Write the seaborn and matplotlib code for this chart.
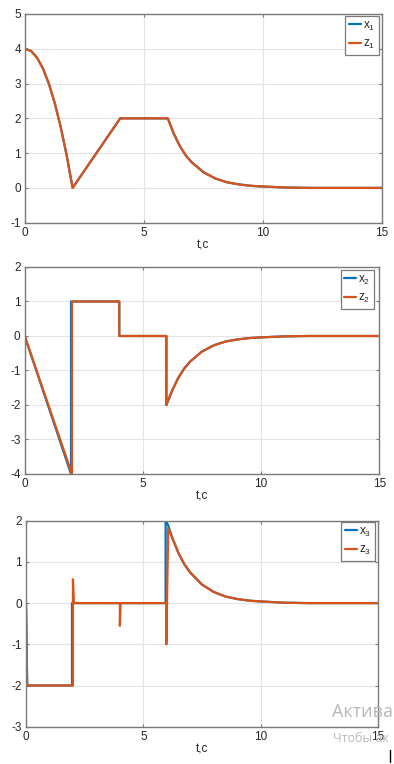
import numpy as np
import pandas as pd
import matplotlib
matplotlib.use("Agg")
import matplotlib.pyplot as plt
from matplotlib.lines import Line2D
import seaborn as sns

# ---------------- data ----------------
# panel 1: x1 and z1 coincide
t1 = [0, 0.25, 0.5, 0.75, 1.0, 1.25, 1.5, 1.75, 2.0, 4.0, 6.0, 6.25, 6.5, 6.75,
      7.0, 7.5, 8.0, 8.5, 9.0, 9.5, 10.0, 11.0, 12.0, 13.0, 14.0, 15.0]
x1 = [4.0, 3.94, 3.75, 3.44, 3.0, 2.44, 1.75, 0.94, 0.0, 2.0, 2.0, 1.56, 1.21, 0.94,
      0.74, 0.45, 0.27, 0.16, 0.10, 0.06, 0.04, 0.01, 0.0, 0.0, 0.0, 0.0]
z1 = list(x1)

# panel 2
t2x = [0, 1.96, 1.96, 4.0, 4.0, 6.0, 6.0, 6.25, 6.5, 6.75, 7.0, 7.5, 8.0, 8.5,
       9.0, 9.5, 10.0, 11.0, 12.0, 13.0, 14.0, 15.0]
x2 = [0.0, -4.0, 1.0, 1.0, 0.0, 0.0, -2.0, -1.56, -1.21, -0.94, -0.74, -0.45, -0.27,
      -0.16, -0.10, -0.06, -0.04, -0.01, 0.0, 0.0, 0.0, 0.0]
t2z = [0, 2.0, 2.0, 4.0, 4.0, 5.98, 5.98, 6.25, 6.5, 6.75, 7.0, 7.5, 8.0, 8.5,
       9.0, 9.5, 10.0, 11.0, 12.0, 13.0, 14.0, 15.0]
z2 = list(x2)

# panel 3
t3x = [0, 0.05, 1.96, 1.96, 5.95, 5.95, 6.05, 6.25, 6.5, 6.75, 7.0, 7.5, 8.0, 8.5,
       9.0, 9.5, 10.0, 11.0, 12.0, 13.0, 14.0, 15.0]
x3 = [0.0, -2.0, -2.0, 0.0, 0.0, 2.0, 1.9, 1.56, 1.21, 0.94, 0.74, 0.45, 0.27, 0.16,
      0.10, 0.06, 0.04, 0.01, 0.0, 0.0, 0.0, 0.0]
t3z = [0, 0.05, 2.0, 2.0, 2.04, 4.0, 4.0, 4.03, 5.98, 5.98, 6.06, 6.25, 6.5, 6.75,
       7.0, 7.5, 8.0, 8.5, 9.0, 9.5, 10.0, 11.0, 12.0, 13.0, 14.0, 15.0]
z3 = [0.0, -2.0, -2.0, 0.58, 0.0, 0.0, -0.55, 0.0, 0.0, -1.0, 1.82, 1.56, 1.21, 0.94,
      0.74, 0.45, 0.27, 0.16, 0.10, 0.06, 0.04, 0.01, 0.0, 0.0, 0.0, 0.0]

x_ticks = [0, 5, 10, 15]
y_ticks = [[-1, 0, 1, 2, 3, 4, 5], [-4, -3, -2, -1, 0, 1, 2], [-3, -2, -1, 0, 1, 2]]
ylims = [(-1, 5), (-4, 2), (-3, 2)]
labels = [("$\\mathregular{x_1}$", "$\\mathregular{z_1}$"),
          ("$\\mathregular{x_2}$", "$\\mathregular{z_2}$"),
          ("$\\mathregular{x_3}$", "$\\mathregular{z_3}$")]
xlabel = "t,c"
watermark = ("Актива", "Чтобы ак")

series = [((t1, x1), (t1, z1)), ((t2x, x2), (t2z, z2)), ((t3x, x3), (t3z, z3))]

# ---------------- style ----------------
sns.set_style("white")
plt.rcParams["font.family"] = ["Liberation Sans", "DejaVu Sans"]
plt.rcParams["mathtext.fontset"] = "custom"
plt.rcParams["mathtext.rm"] = "Liberation Sans"
plt.rcParams["axes.unicode_minus"] = False

BLUE = "#0072BD"
ORANGE = "#D95319"
AX_COL = "#7a7a7a"
TXT_COL = "#262626"

W, H = 394, 764
fig = plt.figure(figsize=(W / 100, H / 100), dpi=100)

# axes boxes in pixels: left, right, top, bottom
boxes = [(25, 382, 14, 222.7), (24.7, 379.3, 267, 474), (26, 378, 520.7, 726.7)]
# legend anchors in pixels: right, top
leg_anchor = [(379, 16), (374, 270), (375, 522)]

for i, (l, r, tp, b) in enumerate(boxes):
    ax = fig.add_axes([l / W, 1 - b / H, (r - l) / W, (b - tp) / H])
    (tx, yx), (tz, yz) = series[i]
    dfx = pd.DataFrame({"t": tx, "v": yx})
    dfz = pd.DataFrame({"t": tz, "v": yz})
    sns.lineplot(data=dfx, x="t", y="v", sort=False, estimator=None, color=BLUE,
                 lw=1.6, ax=ax, label=labels[i][0])
    sns.lineplot(data=dfz, x="t", y="v", sort=False, estimator=None, color=ORANGE,
                 lw=1.6, ax=ax, label=labels[i][1])
    ax.set_xlim(0, 15)
    ax.set_ylim(*ylims[i])
    ax.set_xticks(x_ticks)
    ax.set_yticks(y_ticks[i])
    ax.grid(True, color="#e4e4e4", lw=0.8)
    ax.set_axisbelow(True)
    for s in ax.spines.values():
        s.set_color(AX_COL)
        s.set_linewidth(1.0)
        s.set_visible(True)
    ax.tick_params(direction="in", length=2.5, width=0.8, color=AX_COL,
                   labelsize=8.5, labelcolor=TXT_COL, pad=3,
                   top=True, right=True, bottom=True, left=True)
    ax.set_ylabel("")
    ax.set_xlabel(xlabel, fontsize=8.5, color=TXT_COL)
    ax.xaxis.set_label_coords(0.5, -17 / (b - tp))
    ax.xaxis.label.set_va("top")
    lr, lt = leg_anchor[i]
    leg = ax.legend(loc="upper right",
                    bbox_to_anchor=((lr - l) / (r - l), 1 - (lt - tp) / (b - tp)),
                    borderaxespad=0, fontsize=8.5, frameon=True, fancybox=False,
                    framealpha=1, edgecolor=AX_COL, handlelength=1.0,
                    handletextpad=0.2, borderpad=0.3, labelspacing=0.45)
    leg.get_frame().set_linewidth(0.9)
    for txt in leg.get_texts():
        txt.set_color(TXT_COL)

# screenshot overlay (OS watermark and cursor visible in the reference)
fig.text(332 / W, 1 - 712 / H, watermark[0], color="#b9b9b9", fontsize=13,
         va="center", ha="left", family=["Open Sans", "DejaVu Sans"])
fig.text(333 / W, 1 - 739 / H, watermark[1], color="#b9b9b9",
         fontsize=9, va="center", ha="left", family=["Open Sans", "DejaVu Sans"])
fig.add_artist(Line2D([389.5 / W, 389.5 / W], [1 - 750 / H, 1 - 762 / H],
                      color="black", lw=1.0))

fig.savefig("out.png", dpi=100)
